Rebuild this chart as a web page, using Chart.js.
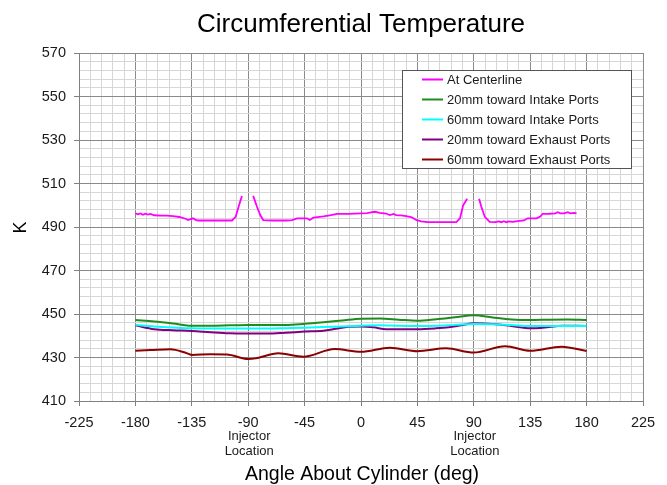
<!DOCTYPE html>
<html><head><meta charset="utf-8">
<script src="https://cdn.jsdelivr.net/npm/chart.js@4.4.1/dist/chart.umd.min.js"></script>
<style>html,body{margin:0;padding:0;background:#fff}#wrap{width:667px;height:485px;position:relative}</style>
</head><body><div id="wrap"><canvas id="c" width="667" height="485"></canvas></div>
<script>
const chartTitle = 'Circumferential Temperature';
const xAxisTitle = 'Angle About Cylinder (deg)';
const yAxisTitle = 'K';
const injectorAngles = [-90, 90];
const injectorText = ['Injector', 'Location'];

const seriesLabels = ['At Centerline', '20mm toward Intake Ports', '60mm toward Intake Ports', '20mm toward Exhaust Ports', '60mm toward Exhaust Ports'];
const seriesColors = ['#ff00ff', '#1e8c1e', '#00ffff', '#800080', '#8b0000'];

const centerlineAngles = [-180,-178,-176,-174,-172,-170,-168,-165,-160,-155,-150,-145,-140,-138,-136,-134,-132,-130,-120,-110,-103,-100,-97.7,-95,-90.5,-86,-83,-80.4,-78,-70,-60,-55,-51,-47,-43,-41,-38,-33,-30,-25,-19,-10,0,5,9,11,15,20,23,26,28,32,36,40,44,48,53,60,70,76,79,81.5,84.7,89.5,94.2,96,98.8,102.7,107,110,112,114,116,118,121,125,130,133,140,143,145,150,155,157,159,162,165,167,170,172];
const centerlineK = [496.3,495.8,496.2,495.6,496.1,495.7,496.0,495.4,495.2,495.2,495.0,494.6,493.8,493.2,493.6,494.0,493.3,493.0,493.0,493.0,493.0,494.7,499.3,504.3,null,504.3,499.3,495.5,493.2,493.0,493.0,493.2,494.0,494.0,494.0,493.2,494.3,494.7,494.9,495.3,496.0,496.0,496.3,496.4,496.8,497.0,496.5,496.2,495.5,496.0,495.5,495.3,495.0,494.6,493.3,492.6,492.2,492.2,492.2,492.2,494.0,500.0,503.0,null,503.0,499.3,494.7,492.4,492.2,492.6,492.2,492.7,492.2,492.6,492.4,492.7,493.0,494.0,494.0,494.8,496.0,496.1,496.3,496.8,496.3,496.3,496.8,496.3,496.5,496.3];

const intake20Angles = [-180,-165,-150,-135,-120,-105,-90,-75,-60,-45,-30,-15,0,15,30,45,60,75,90,105,120,135,150,165,180];
const intake20K = [447.2,446.5,445.6,444.6,444.6,444.8,445.0,445.0,445.0,445.5,446.2,447.0,447.8,447.9,447.4,446.9,447.6,448.5,449.4,448.4,447.5,447.2,447.4,447.5,447.2];

const intake60Angles = [-180,-165,-150,-135,-120,-105,-90,-75,-60,-45,-30,-15,0,15,30,45,60,75,90,105,120,135,150,165,180];
const intake60K = [445.0,444.3,443.8,443.4,443.3,443.3,443.3,443.3,443.5,443.7,444.0,444.3,444.6,444.8,444.6,444.5,444.6,445.0,445.4,445.3,444.9,444.5,444.5,444.5,444.5];

const exhaust20Angles = [-180,-165,-150,-135,-120,-105,-90,-75,-60,-45,-30,-20,-10,0,10,20,30,45,60,70,80,90,105,120,135,150,160,180];
const exhaust20K = [444.8,443.0,442.5,442.2,441.6,441.1,441.0,441.0,441.4,441.9,442.3,443.2,444.1,444.3,443.9,443.0,443.0,443.0,443.4,443.9,444.8,445.7,445.4,444.5,443.4,444.0,444.6,444.5];

const exhaust60Angles = [-180,-168,-152,-140,-135,-120,-107,-90,-84,-66,-46,-21,0,23,45,68,90,115,135,160,180];
const exhaust60K = [433.1,433.4,433.8,432.2,431.2,431.5,431.4,429.3,429.6,431.9,430.4,433.9,432.6,434.5,432.9,434.2,432.3,435.2,433.1,435.0,433.0];

const xMin = -225, xMax = 225, xMinorStep = 9, xMajorStep = 45;
const yMin = 410, yMax = 570, yMinorStep = 4, yMajorStep = 20;

const FONT = '"Liberation Sans", Arial, sans-serif';
const toPts = (a, v) => a.map((x, i) => ({x: x, y: v[i]}));

const seriesData = [
  toPts(centerlineAngles, centerlineK),
  toPts(intake20Angles, intake20K),
  toPts(intake60Angles, intake60K),
  toPts(exhaust20Angles, exhaust20K),
  toPts(exhaust60Angles, exhaust60K)
];

const datasets = seriesData.map((d, i) => ({
  label: seriesLabels[i],
  data: d,
  borderColor: seriesColors[i],
  backgroundColor: seriesColors[i],
  borderWidth: i === 0 ? 1.8 : 2,
  pointRadius: 0,
  spanGaps: false,
  tension: i === 0 ? 0 : 0.4,
  cubicInterpolationMode: i === 0 ? 'default' : 'monotone',
  fill: false
}));

const isMajor = (v, base, step) => Math.abs(Math.round(v - base) % step) === 0;

const decorPlugin = {
  id: 'decor',
  afterDraw(chart) {
    const ctx = chart.ctx;
    const ca = chart.chartArea;
    const xs = chart.scales.x;
    ctx.save();
    ctx.fillStyle = '#000';
    ctx.textAlign = 'center';
    ctx.textBaseline = 'alphabetic';
    ctx.font = '26px ' + FONT;
    ctx.fillText(chartTitle, (ca.left + ca.right) / 2, 32);
    ctx.font = '19.5px ' + FONT;
    ctx.fillText(xAxisTitle, (ca.left + ca.right) / 2 + 1, 480);
    ctx.fillStyle = '#1a1a1a';
    ctx.font = '13px ' + FONT;
    injectorAngles.forEach(a => {
      const px = xs.getPixelForValue(a);
      ctx.fillText(injectorText[0], px + 1, 440);
      ctx.fillText(injectorText[1], px + 1, 455);
    });
    ctx.save();
    ctx.fillStyle = '#000';
    ctx.translate(21.5, 227.5);
    ctx.rotate(-Math.PI / 2);
    ctx.font = '18px ' + FONT;
    ctx.textBaseline = 'middle';
    ctx.fillText(yAxisTitle, 0, 0);
    ctx.restore();

    // legend box
    const lx = 402, ly = 70, lw = 229, lh = 98;
    ctx.fillStyle = '#fff';
    ctx.fillRect(lx, ly, lw, lh);
    ctx.strokeStyle = '#555';
    ctx.lineWidth = 1;
    ctx.strokeRect(lx + 0.5, ly + 0.5, lw, lh);
    ctx.font = '13px ' + FONT;
    ctx.textAlign = 'left';
    ctx.textBaseline = 'middle';
    chart.data.datasets.forEach((ds, i) => {
      const y = 79.5 + i * 20;
      ctx.strokeStyle = ds.borderColor;
      ctx.lineWidth = 2;
      ctx.beginPath();
      ctx.moveTo(422, y);
      ctx.lineTo(443, y);
      ctx.stroke();
      ctx.fillStyle = '#1a1a1a';
      ctx.fillText(ds.label, 447, y + 0.5);
    });
    ctx.restore();
  }
};

new Chart(document.getElementById('c'), {
  type: 'line',
  data: { datasets: datasets },
  options: {
    responsive: false,
    devicePixelRatio: 1,
    animation: false,
    events: [],
    layout: { padding: { left: 0, top: 53, right: 24, bottom: 0 } },
    plugins: { legend: { display: false }, title: { display: false }, tooltip: { enabled: false } },
    scales: {
      x: {
        type: 'linear',
        min: xMin, max: xMax,
        afterFit(s) { s.height = 84; },
        border: { display: true, color: '#808080', width: 1 },
        grid: {
          color: c => isMajor(c.tick.value, xMin, xMajorStep) ? '#8a8a8a' : '#d6d6d6',
          tickColor: c => isMajor(c.tick.value, xMin, xMajorStep) ? '#808080' : 'rgba(0,0,0,0)',
          tickLength: 5,
          lineWidth: 1
        },
        ticks: {
          stepSize: xMinorStep,
          maxTicksLimit: 200,
          autoSkip: false,
          maxRotation: 0,
          padding: 8,
          color: '#1a1a1a',
          font: { family: FONT, size: 14.5 },
          callback: v => isMajor(v, xMin, xMajorStep) ? String(Math.round(v)) : ''
        }
      },
      y: {
        type: 'linear',
        min: yMin, max: yMax,
        afterFit(s) { s.width = 79; },
        border: { display: true, color: '#808080', width: 1 },
        grid: {
          color: c => isMajor(c.tick.value, yMin, yMajorStep) ? '#8a8a8a' : '#d6d6d6',
          tickColor: c => isMajor(c.tick.value, yMin, yMajorStep) ? '#808080' : 'rgba(0,0,0,0)',
          tickLength: 5,
          lineWidth: 1
        },
        ticks: {
          stepSize: yMinorStep,
          maxTicksLimit: 200,
          autoSkip: false,
          padding: 8,
          color: '#1a1a1a',
          font: { family: FONT, size: 14.5 },
          callback: v => isMajor(v, yMin, yMajorStep) ? String(Math.round(v)) : ''
        }
      }
    }
  },
  plugins: [decorPlugin]
});
</script>
</body></html>
